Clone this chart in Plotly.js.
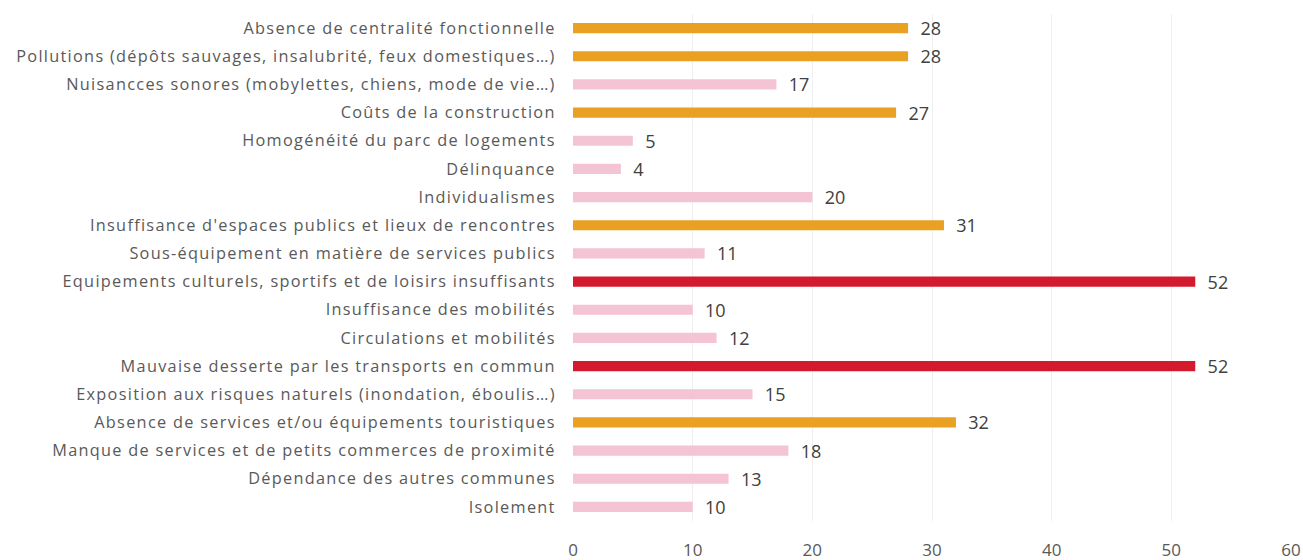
<!DOCTYPE html>
<html>
<head>
<meta charset="utf-8">
<script src="https://cdn.plot.ly/plotly-3.0.1.min.js"></script>
<style>
html,body{margin:0;padding:0;background:#fff;}
#chart{width:1303px;height:560px;}
#chart g.ytick text{letter-spacing:1.3px;}
</style>
</head>
<body>
<div id="chart"></div>
<script>
const categories = [
  "Absence de centralité fonctionnelle",
  "Pollutions (dépôts sauvages, insalubrité, feux domestiques…)",
  "Nuisancces sonores (mobylettes, chiens, mode de vie…)",
  "Coûts de la construction",
  "Homogénéité du parc de logements",
  "Délinquance",
  "Individualismes",
  "Insuffisance d'espaces publics et lieux de rencontres",
  "Sous-équipement en matière de services publics",
  "Equipements culturels, sportifs et de loisirs insuffisants",
  "Insuffisance des mobilités",
  "Circulations et mobilités",
  "Mauvaise desserte par les transports en commun",
  "Exposition aux risques naturels (inondation, éboulis…)",
  "Absence de services et/ou équipements touristiques",
  "Manque de services et de petits commerces de proximité",
  "Dépendance des autres communes",
  "Isolement"
];
const values = [28, 28, 17, 27, 5, 4, 20, 31, 11, 52, 10, 12, 52, 15, 32, 18, 13, 10];
const xTicks = [0, 10, 20, 30, 40, 50, 60];

const RED = "#D41A2E", ORANGE = "#E9A023", PINK = "#F5C4D4";
const colors = values.map(v => v >= 50 ? RED : (v >= 25 ? ORANGE : PINK));

const font = "'Open Sans', Lato, sans-serif";

Plotly.newPlot("chart", [{
  type: "bar",
  orientation: "h",
  y: categories,
  x: values,
  marker: {color: colors, line: {width: 0}},
  text: values.map(v => "\u00a0\u00a0" + v),
  textposition: "outside",
  constraintext: "none",
  cliponaxis: false,
  textfont: {family: font, size: 18, color: "#404040"},
  hoverinfo: "none"
}], {
  width: 1303, height: 560,
  margin: {l: 573, r: 12, t: 14, b: 39, pad: 0},
  paper_bgcolor: "#ffffff",
  plot_bgcolor: "#ffffff",
  bargap: 0.64,
  showlegend: false,
  font: {family: font, size: 16, color: "#595959"},
  xaxis: {
    range: [0, 60],
    tickvals: xTicks,
    ticktext: xTicks.map(String),
    showgrid: true,
    gridcolor: "#EFEFEF",
    gridwidth: 1,
    zeroline: false,
    showline: false,
    ticks: "outside",
    ticklen: 14,
    tickcolor: "rgba(0,0,0,0)",
    ticklabeloverflow: "allow",
    tickfont: {family: font, size: 17, color: "#595959"},
    automargin: false,
    fixedrange: true
  },
  yaxis: {
    type: "category",
    autorange: "reversed",
    showgrid: false,
    zeroline: false,
    showline: false,
    ticks: "outside",
    ticklen: 13,
    tickcolor: "rgba(0,0,0,0)",
    tickfont: {family: font, size: 16.3, color: "#595959"},
    automargin: false,
    fixedrange: true
  }
}, {displayModeBar: false, staticPlot: true});
</script>
</body>
</html>
